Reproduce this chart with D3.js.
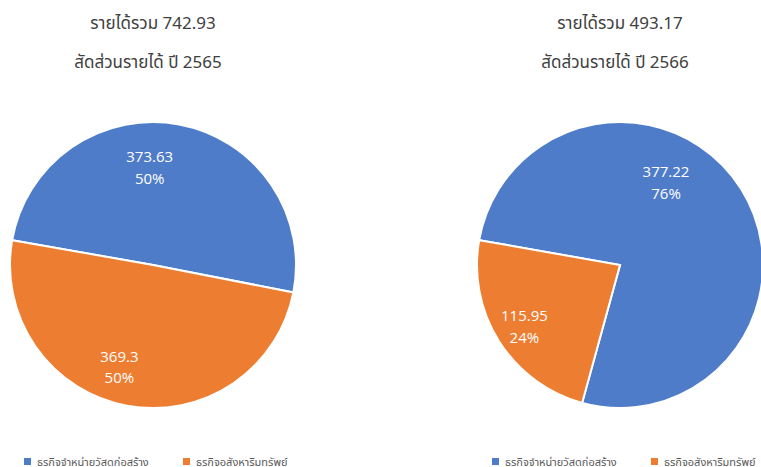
<!DOCTYPE html>
<html>
<head>
<meta charset="utf-8">
<script src="https://cdn.jsdelivr.net/npm/d3@7"></script>
<style>
  body { margin: 0; background: #fff; }
  svg { display: block; }
  .title { font-family: "Noto Sans Thai", "Noto Sans", "DejaVu Sans", sans-serif; font-size: 17px; fill: #404040; }
  .lbl { font-family: "Open Sans", "Noto Sans", sans-serif; font-size: 15px; fill: #fff; }
  .legend text { font-family: "Noto Sans Thai", "Noto Sans", sans-serif; font-size: 11px; fill: #595959; }
</style>
</head>
<body>
<svg id="chart"></svg>
<script>
// categories + values
var categories = ["ธุรกิจจำหน่ายวัสดุก่อสร้าง", "ธุรกิจอสังหาริมทรัพย์"];
var years = ["2565", "2566"];
var totals = ["742.93", "493.17"];
var values2565 = [373.63, 369.3];
var values2566 = [377.22, 115.95];
var colors = ["#4e7cc8", "#ed7d31"];

var width = 761, height = 467;
var svg = d3.select("#chart").attr("width", width).attr("height", height);

var color = d3.scaleOrdinal().domain(categories).range(colors);

// label placement like excel's "best fit": [angle shift in degrees, radius fraction] per slice
function drawPie(values, year, total, cx, legendX, labelFit) {
    var r = 143, cy = 265;
    var rot = 280 * Math.PI / 180;

    var pie = d3.pie().sort(null)
        .value(function(d) { return d.value; })
        .startAngle(rot).endAngle(rot + 2 * Math.PI);
    var arc = d3.arc().innerRadius(0).outerRadius(r);

    var data = values.map(function(v, i) { return {name: categories[i], value: v}; });
    var sum = d3.sum(values);

    // titles
    svg.append("text").attr("class", "title")
        .attr("x", cx).attr("y", 29).attr("text-anchor", "middle")
        .text("รายได้รวม " + total);
    svg.append("text").attr("class", "title")
        .attr("x", cx - 5).attr("y", 68).attr("text-anchor", "middle")
        .text("สัดส่วนรายได้ ปี " + year);

    var g = svg.append("g").attr("transform", "translate(" + cx + "," + cy + ")");
    var arcs = pie(data);

    g.selectAll("path").data(arcs).enter().append("path")
        .attr("d", arc)
        .attr("fill", function(d) { return color(d.data.name); })
        .attr("stroke", "#fff")
        .attr("stroke-width", 2);

    var lbl = g.selectAll("text.lbl").data(arcs).enter().append("text")
        .attr("class", "lbl")
        .attr("text-anchor", "middle")
        .attr("transform", function(d, i) {
            var a = (d.startAngle + d.endAngle) / 2 + labelFit[i][0] * Math.PI / 180;
            var rr = r * labelFit[i][1];
            return "translate(" + (Math.sin(a) * rr) + "," + (-Math.cos(a) * rr) + ")";
        });
    lbl.append("tspan").attr("x", 0).attr("dy", "-0.45em").text(function(d) { return d.data.value; });
    lbl.append("tspan").attr("x", 0).attr("dy", "1.45em")
        .text(function(d) { return Math.round(d.data.value / sum * 100) + "%"; });

    // legend
    var leg = svg.append("g").attr("class", "legend")
        .attr("transform", "translate(" + legendX + ",462)");
    var item = leg.selectAll("g").data(categories).enter().append("g")
        .attr("transform", function(d, i) { return "translate(" + (i * 159) + ",0)"; });
    item.append("rect").attr("x", 0).attr("y", -4).attr("width", 7).attr("height", 7)
        .attr("fill", function(d) { return color(d); });
    item.append("text").attr("x", 13).attr("y", 0).attr("dy", "0.35em").text(function(d) { return d; });
}

drawPie(values2565, years[0], totals[0], 153, 24, [[-12.5, 0.67], [7.5, 0.76]]);
drawPie(values2566, years[1], totals[1], 620, 492, [[-28, 0.65], [-1, 0.8]]);
</script>
</body>
</html>
